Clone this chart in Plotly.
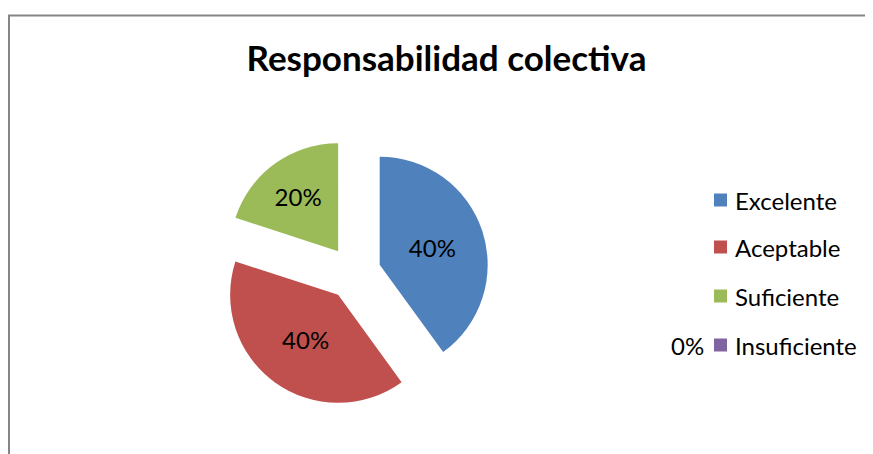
import plotly.graph_objects as go

labels = ["Excelente", "Aceptable", "Suficiente", "Insuficiente"]
values = [40, 40, 20, 0]
colors = ["#4F81BD", "#C0504D", "#9BBB59", "#8064A2"]
title_text = "Responsabilidad colectiva"

# page body has an 8px margin; work in screen coordinates and offset
OFF = 8
W, H = 873 - OFF, 454 - OFF
total = sum(values)

def px(x):
    return (x - OFF) / W

def py(y):
    return 1 - (y - OFF) / H

fig = go.Figure()
fig.add_trace(go.Pie(
    labels=labels,
    values=values,
    marker=dict(colors=colors, line=dict(width=0)),
    sort=False,
    direction="clockwise",
    rotation=0,
    pull=[0.25] * len(values),
    texttemplate=["%{percent:.0%}" if v > 0 else "" for v in values],
    textposition="inside",
    insidetextorientation="horizontal",
    textfont=dict(family="Lato", size=24, color="#000000"),
    domain=dict(x=[px(219), px(489)], y=[py(408), py(138)]),
    showlegend=False,
    hoverinfo="label+percent",
))

shapes = [
    dict(type="line", xref="paper", yref="paper", x0=px(8), x1=1.0, y0=py(15.5), y1=py(15.5),
         line=dict(color="#868686", width=2)),
    dict(type="line", xref="paper", yref="paper", x0=px(9), x1=px(9), y0=py(15), y1=0,
         line=dict(color="#868686", width=2)),
]
annotations = []
leg_y = [200, 247, 296, 345]
for lab, col, v, yy in zip(labels, colors, values, leg_y):
    shapes.append(dict(type="rect", xref="paper", yref="paper",
                       x0=px(714), x1=px(727), y0=py(yy + 6.5), y1=py(yy - 6.5),
                       fillcolor=col, line=dict(width=0)))
    annotations.append(dict(text=lab, xref="paper", yref="paper", x=px(733), y=py(yy),
                            xanchor="left", yanchor="middle", showarrow=False,
                            font=dict(family="Lato", size=24, color="#000000")))
    if v == 0:
        annotations.append(dict(text=f"{round(100 * v / total)}%", xref="paper", yref="paper",
                                x=px(706), y=py(yy), xanchor="right", yanchor="middle",
                                showarrow=False,
                                font=dict(family="Lato", size=24, color="#000000")))

fig.update_layout(
    width=W, height=H,
    margin=dict(l=0, r=0, t=0, b=0),
    paper_bgcolor="white",
    plot_bgcolor="white",
    title=dict(text="<b>" + title_text + "</b>", x=px(446.5), xanchor="center",
               y=py(59), yanchor="middle",
               font=dict(family="Lato", size=35, color="#000000")),
    shapes=shapes,
    annotations=annotations,
)

fig.write_html("out.html")
